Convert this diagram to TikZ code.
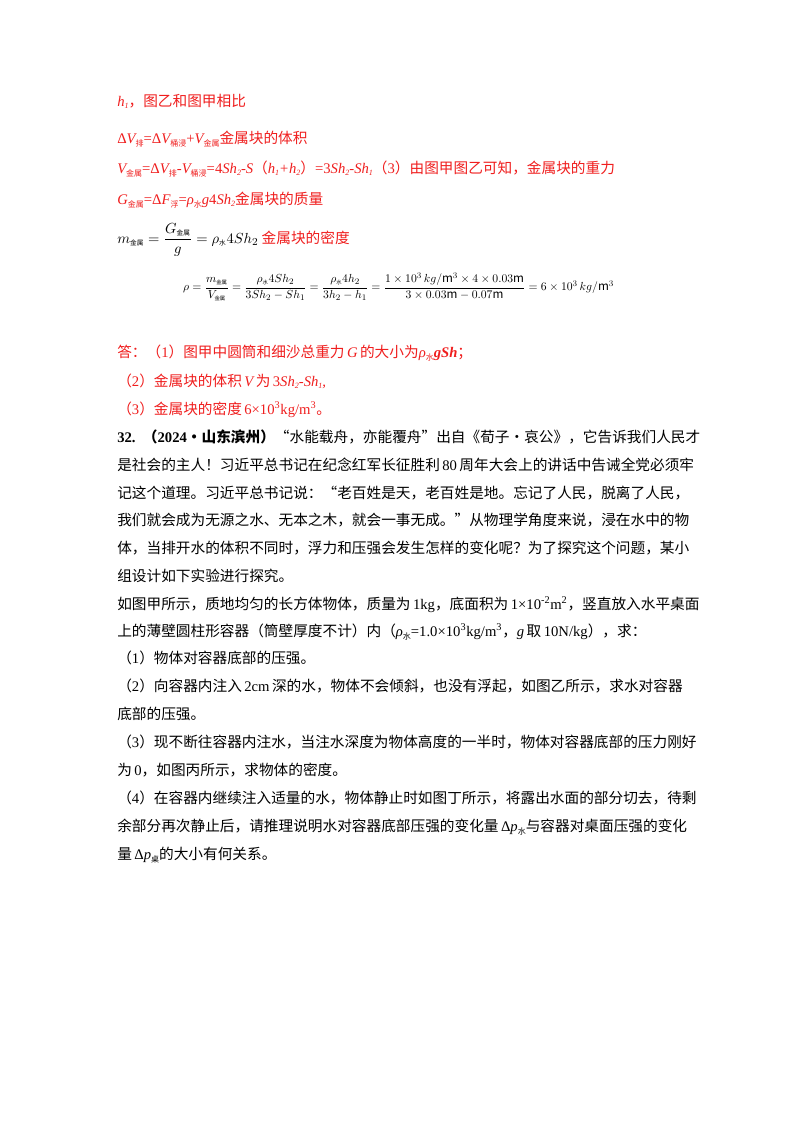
\documentclass[tikz,border=0pt]{standalone}
\usepackage{amsmath}
\usepackage{fontspec}
\setmainfont{Noto Sans CJK SC}
\newfontfamily\enf{Liberation Serif}
\newcommand{\en}[1]{{\enf #1}}
\newcommand{\ei}[1]{{\enf\itshape #1}}
\newcommand{\sbx}[1]{\raisebox{-0.4ex}{\fontsize{6}{6}\selectfont #1}}
\definecolor{ans}{RGB}{240,30,30}
\begin{document}
\begin{tikzpicture}[x=0.75pt,y=-0.75pt,
 t/.style={anchor=base west,inner sep=0pt,font=\fontsize{11}{12}\selectfont},
 r/.style={t,text=ans}]
\useasboundingbox (0,0) rectangle (800,1132);
\fill[white] (0,0) rectangle (800,1132);
\node[r] (l1) at (117,106) {\ei{h\sbx{1}}，图乙和图甲相比};
\node[r] (l2) at (117,143) {\en{Δ}\ei{V}\sbx{排}\en{=Δ}\ei{V}\sbx{桶浸}\en{+}\ei{V}\sbx{金属}金属块的体积};
\node[r] (l3) at (117,173) {\ei{V}\sbx{金属}\en{=Δ}\ei{V}\sbx{排}\en{-}\ei{V}\sbx{桶浸}\en{=4}\ei{Sh\sbx{2}-S}（\ei{h\sbx{1}+h\sbx{2}}）\en{=3}\ei{Sh\sbx{2}-Sh\sbx{1}}（\en{3}）由图甲图乙可知，金属块的重力};
\node[r] (l4) at (117,204) {\ei{G}\sbx{金属}\en{=Δ}\ei{F}\sbx{浮}\en{=}\ei{ρ}\sbx{水}\ei{g}\en{4}\ei{Sh\sbx{2}}金属块的质量};
\node[t] (m1) at (117,243) {$m_{\text{\tiny 金属}}=\dfrac{G_{\text{\tiny 金属}}}{g}=\rho_{\text{\tiny 水}}4Sh_2$ \textcolor{ans}{金属块的密度}};
\node[t,scale=0.8,anchor=west] (m2) at (183,287) {$\rho=\dfrac{m_{\text{\tiny 金属}}}{V_{\text{\tiny 金属}}}=\dfrac{\rho_{\text{\tiny 水}}4Sh_2}{3Sh_2-Sh_1}=\dfrac{\rho_{\text{\tiny 水}}4h_2}{3h_2-h_1}=\dfrac{1\times10^3\,kg/\mathrm{m}^3\times4\times0.03\mathrm{m}}{3\times0.03\mathrm{m}-0.07\mathrm{m}}=6\times10^3\,kg/\mathrm{m}^3$};
\node[r] (a1) at (117,357) {答：（\en{1}）图甲中圆筒和细沙总重力\,\ei{G}\,的大小为\ei{ρ}\sbx{水}\en{\bfseries\itshape gSh}；};
\node[r] (a2) at (117,386) {（\en{2}）金属块的体积\,\ei{V}\,为\,\en{3}\ei{Sh\sbx{2}-Sh\sbx{1},}};
\node[r] (a3) at (117,414) {（\en{3}）金属块的密度\,\en{6×10\textsuperscript{3}kg/m\textsuperscript{3}}。};
\node[t] (q1) at (117,442) {\en{\bfseries 32.}\hspace{0.5em}\textbf{（\en{2024}·山东滨州）}“水能载舟，亦能覆舟”出自《荀子·哀公》，它告诉我们人民才};
\node[t] (q2) at (117,470) {是社会的主人！习近平总书记在纪念红军长征胜利\,\en{80}\,周年大会上的讲话中告诫全党必须牢};
\node[t] (q3) at (117,498) {记这个道理。习近平总书记说：“老百姓是天，老百姓是地。忘记了人民，脱离了人民，};
\node[t] (q4) at (117,525) {我们就会成为无源之水、无本之木，就会一事无成。”从物理学角度来说，浸在水中的物};
\node[t] (q5) at (117,553) {体，当排开水的体积不同时，浮力和压强会发生怎样的变化呢？为了探究这个问题，某小};
\node[t] (q6) at (117,581) {组设计如下实验进行探究。};
\node[t] (q7) at (117,609) {如图甲所示，质地均匀的长方体物体，质量为\,\en{1kg}，底面积为\,\en{1×10\textsuperscript{-2}m\textsuperscript{2}}，竖直放入水平桌面};
\node[t] (q8) at (117,636) {上的薄壁圆柱形容器（筒壁厚度不计）内（\ei{ρ}\sbx{水}\en{=1.0×10\textsuperscript{3}kg/m\textsuperscript{3}}，\ei{g}\,取\,\en{10N/kg}），求：};
\node[t] (q9) at (117,663) {（\en{1}）物体对容器底部的压强。};
\node[t] (q10) at (117,691) {（\en{2}）向容器内注入\,\en{2cm}\,深的水，物体不会倾斜，也没有浮起，如图乙所示，求水对容器};
\node[t] (q11) at (117,719) {底部的压强。};
\node[t] (q12) at (117,747) {（\en{3}）现不断往容器内注水，当注水深度为物体高度的一半时，物体对容器底部的压力刚好};
\node[t] (q13) at (117,775) {为\,\en{0}，如图丙所示，求物体的密度。};
\node[t] (q14) at (117,803) {（\en{4}）在容器内继续注入适量的水，物体静止时如图丁所示，将露出水面的部分切去，待剩};
\node[t] (q15) at (117,831) {余部分再次静止后，请推理说明水对容器底部压强的变化量\,\en{Δ}\ei{p}\sbx{水}与容器对桌面压强的变化};
\node[t] (q16) at (117,859) {量\,\en{Δ}\ei{p}\sbx{桌}的大小有何关系。};
\end{tikzpicture}
\end{document}
